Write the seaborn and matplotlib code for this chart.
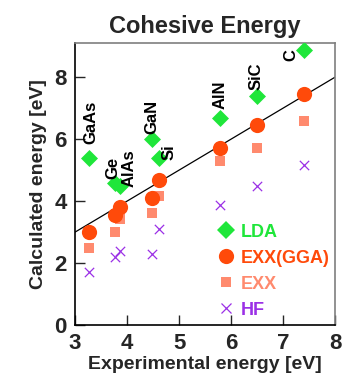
import matplotlib
matplotlib.use("Agg")
import matplotlib.pyplot as plt
from matplotlib.lines import Line2D
import seaborn as sns
import pandas as pd

# Cohesive energies of semiconductors: experiment vs. calculated (eV)
materials = ["GaAs", "Ge", "AlAs", "GaN", "Si", "AlN", "SiC", "C"]
experimental = [3.27, 3.77, 3.87, 4.48, 4.61, 5.79, 6.50, 7.40]
lda = [5.39, 4.59, 4.48, 5.99, 5.40, 6.69, 7.39, 8.87]
exx_gga = [3.00, 3.55, 3.82, 4.10, 4.68, 5.70, 6.45, 7.47]
exx = [2.48, 3.01, 3.42, 3.61, 4.17, 5.29, 5.70, 6.59]
hf = [1.71, 2.20, 2.40, 2.29, 3.09, 3.89, 4.48, 5.18]

# Material-name annotation anchors (data coordinates)
label_x = [3.31, 3.72, 4.04, 4.47, 4.81, 5.78, 6.49, 7.15]
label_y = [6.55, 5.06, 5.06, 6.71, 5.58, 7.42, 8.03, 8.71]

x_ticks = [3, 4, 5, 6, 7, 8]
y_ticks = [0, 2, 4, 6, 8]

sns.set_style("white")
plt.rcParams["font.family"] = ["Liberation Sans", "DejaVu Sans"]
plt.rcParams["font.weight"] = "bold"

fig = plt.figure(figsize=(3.44, 3.88), dpi=100)
ax = fig.add_axes([0.218, 0.162, 0.756, 0.727])

df = pd.DataFrame({"exp": experimental, "LDA": lda, "EXX(GGA)": exx_gga,
                   "EXX": exx, "HF": hf})

series = [
    ("LDA", "D", "#1fe63a", 75),
    ("EXX(GGA)", "o", "#ff4a0a", 120),
    ("EXX", "s", "#ff8a6e", 45),
    ("HF", "x", "#9b30e6", 45),
]

# Ideal agreement line
ax.axline((0, 0), slope=1, color="black", lw=0.9, zorder=1)

for name, mk, col, s in reversed(series):
    kw = dict(linewidth=0.9) if mk == "x" else dict(linewidth=0)
    sns.scatterplot(data=df, x="exp", y=name, marker=mk, color=col, s=s,
                    ax=ax, zorder=3, legend=False, **kw)

for m, lx, ly in zip(materials, label_x, label_y):
    ax.text(lx, ly, m, rotation=90, ha="center", va="center",
            fontsize=12, fontweight="bold", color="black")

ax.set_xlim(3, 8)
ax.set_ylim(0, 9.1)
ax.set_xticks(x_ticks)
ax.set_yticks(y_ticks)
ax.tick_params(direction="in", length=7, width=1, labelsize=16,
               pad=6, top=False, right=False, bottom=True, left=True)
for lab in ax.get_xticklabels() + ax.get_yticklabels():
    lab.set_fontweight("bold")

for side in ["left", "bottom"]:
    ax.spines[side].set_color("black")
    ax.spines[side].set_linewidth(1.2)
for side in ["top", "right"]:
    ax.spines[side].set_color("#7f7f7f")
    ax.spines[side].set_linewidth(1.2)

ax.set_xlabel("Experimental energy [eV]", fontsize=14, fontweight="bold",
              labelpad=1)
ax.set_ylabel("Calculated energy [eV]", fontsize=14, fontweight="bold",
              labelpad=5)
ax.set_title("Cohesive Energy", fontsize=17, fontweight="bold", pad=7)

handles = []
for name, mk, col, s in series:
    ms = s ** 0.5
    handles.append(Line2D([], [], linestyle="none", marker=mk, color=col,
                          markersize=ms, markeredgewidth=0.9 if mk == "x" else 0))
leg = ax.legend(handles, [s[0] for s in series], loc="lower left",
                bbox_to_anchor=(0.49, -0.035), frameon=False,
                handlelength=0.8, handletextpad=0.4, labelspacing=0.5,
                prop={"size": 13, "weight": "bold"})
for txt, (name, mk, col, s) in zip(leg.get_texts(), series):
    txt.set_color(col)

fig.savefig("out.png", dpi=100)
